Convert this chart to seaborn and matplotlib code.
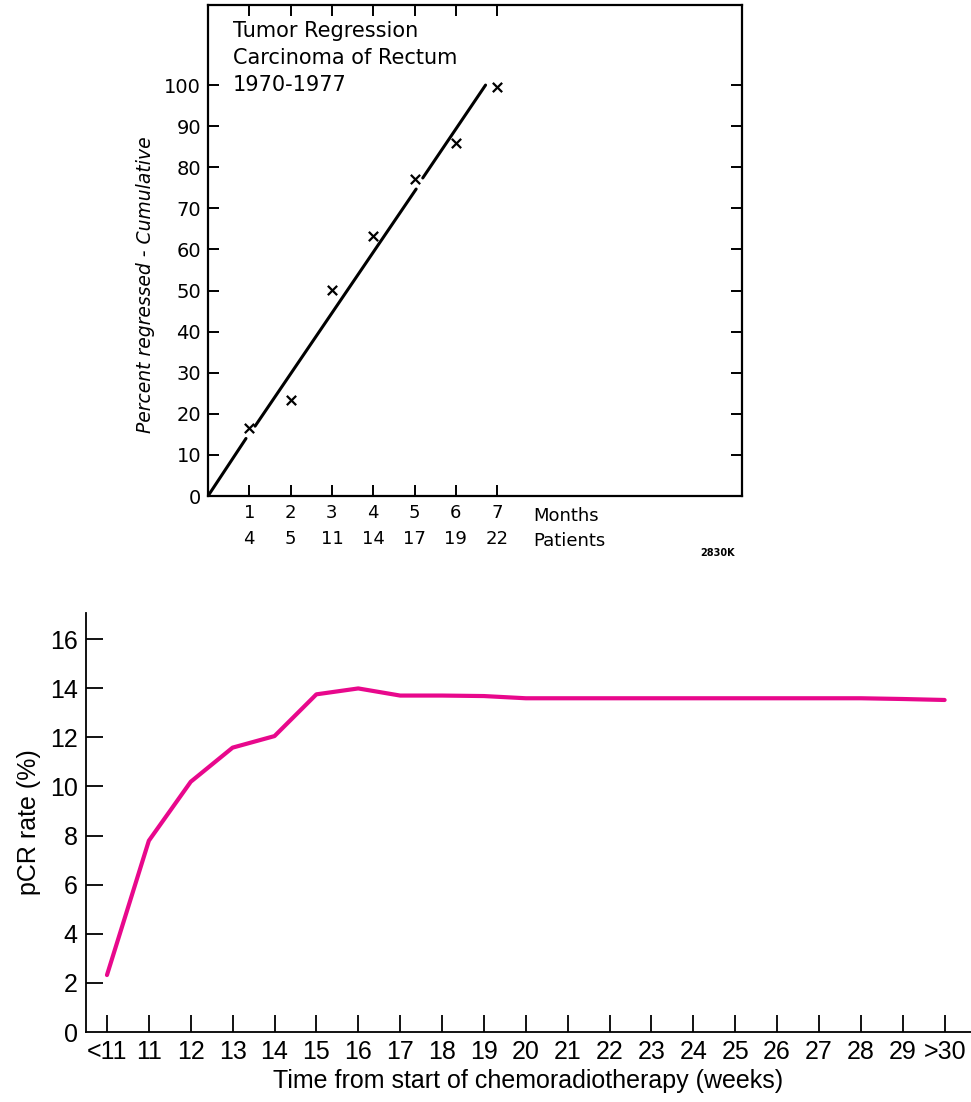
import numpy as np
import pandas as pd
import matplotlib
matplotlib.use("Agg")
import matplotlib.pyplot as plt
import seaborn as sns

# --- top panel: tumor regression (scanned 1970s figure) ---
months = [1, 2, 3, 4, 5, 6, 7]
patients = [4, 5, 11, 14, 17, 19, 22]
pct_regressed = [16.5, 23.3, 50.1, 63.3, 77.1, 86.0, 99.5]

# hand-drawn fit line, broken into pieces around the markers
fit_x = [0.0, 0.92, 1.14, 5.04, 5.20, 6.72]
fit_y = [0.0, 14.0, 17.0, 74.7, 77.4, 100.0]
fit_seg = [0, 0, 1, 1, 2, 2]

# --- bottom panel: pCR rate vs time ---
week_labels = ["<11", "11", "12", "13", "14", "15", "16", "17", "18", "19", "20",
               "21", "22", "23", "24", "25", "26", "27", "28", "29", ">30"]
pcr_rate = [2.32, 7.79, 10.19, 11.58, 12.05, 13.75, 13.99, 13.70, 13.70, 13.68, 13.59,
            13.59, 13.59, 13.59, 13.59, 13.59, 13.59, 13.59, 13.59, 13.56, 13.52]

sns.set_theme(style="white")
plt.rcParams["font.family"] = ["DejaVu Sans"]
plt.rcParams["text.color"] = "black"
plt.rcParams["axes.labelcolor"] = "black"
plt.rcParams["xtick.color"] = "black"
plt.rcParams["ytick.color"] = "black"

fig = plt.figure(figsize=(9.71, 11.02), dpi=100)

# ---------------- top ----------------
ax1 = fig.add_axes([0.2142, 0.5499, 0.5500, 0.4456])
fit_df = pd.DataFrame({"x": fit_x, "y": fit_y, "seg": fit_seg})
sns.lineplot(data=fit_df, x="x", y="y", units="seg", estimator=None,
             color="black", linewidth=2.2, ax=ax1)
pts = pd.DataFrame({"month": months, "pct": pct_regressed})
sns.scatterplot(data=pts, x="month", y="pct", marker="x", s=45,
                color="black", linewidth=1.6, ax=ax1)

ax1.set_xlim(0, 12.93)
ax1.set_ylim(0, 119.5)
for sp in ax1.spines.values():
    sp.set_visible(True)
    sp.set_color("black")
    sp.set_linewidth(1.6)

ax1.set_xticks(months)
ax1.set_xticklabels([f"{m}\n{p}" for m, p in zip(months, patients)],
                    fontsize=13, linespacing=1.55)
ax1.set_yticks(range(0, 101, 10))
ax1.set_yticklabels([str(v) for v in range(0, 101, 10)], fontsize=14)
ax1.tick_params(axis="both", which="both", direction="in", length=8, width=1.4,
                top=True, right=True, bottom=True, left=True, color="black")
ax1.tick_params(axis="x", pad=6)
ax1.tick_params(axis="y", pad=5)
# no tick drawn at zero on the left/right
ax1.yaxis.get_major_ticks()[0].tick1line.set_visible(False)
ax1.yaxis.get_major_ticks()[0].tick2line.set_visible(False)

ax1.set_xlabel("")
ax1.set_ylabel("Percent regressed - Cumulative", fontsize=13.5, style="italic")
ax1.yaxis.set_label_coords(-0.10, 0.43)

ax1.text(7.87, -2.6, "Months\nPatients", fontsize=13, ha="left", va="top",
         linespacing=1.55)
ax1.text(0.047, 0.968, "Tumor Regression\nCarcinoma of Rectum\n1970-1977",
         transform=ax1.transAxes, fontsize=15, ha="left", va="top",
         linespacing=1.45)
fig.text(0.739, 0.498, "2830K", fontsize=7, fontweight="bold", ha="center", va="center")

# ---------------- bottom ----------------
fam = ["Liberation Sans", "DejaVu Sans"]
ax2 = fig.add_axes([0.0886, 0.0635, 0.9114, 0.3802])
pcr_df = pd.DataFrame({"pos": np.arange(len(week_labels)), "rate": pcr_rate})
sns.lineplot(data=pcr_df, x="pos", y="rate", color="#E8088C", linewidth=3.0, ax=ax2)

ax2.set_xlim(-0.5, 20.63)
ax2.set_ylim(0, 17.06)
ax2.spines["top"].set_visible(False)
ax2.spines["right"].set_visible(False)
for side in ["left", "bottom"]:
    ax2.spines[side].set_visible(True)
    ax2.spines[side].set_color("black")
    ax2.spines[side].set_linewidth(1.3)

ax2.set_xticks(np.arange(len(week_labels)))
ax2.set_xticklabels(week_labels, fontsize=18, family=fam)
ax2.set_yticks(range(0, 17, 2))
ax2.set_yticklabels([str(v) for v in range(0, 17, 2)], fontsize=18, family=fam)
ax2.tick_params(axis="both", direction="in", length=12, width=1.3,
                bottom=True, left=True, color="black", pad=6)
ax2.yaxis.get_major_ticks()[0].tick1line.set_visible(False)
ax2.set_xlabel("Time from start of chemoradiotherapy (weeks)", fontsize=18,
               family=fam, labelpad=3)
ax2.set_ylabel("pCR rate (%)", fontsize=18, family=fam, labelpad=6)

fig.savefig("out.png", dpi=100, facecolor="white")
